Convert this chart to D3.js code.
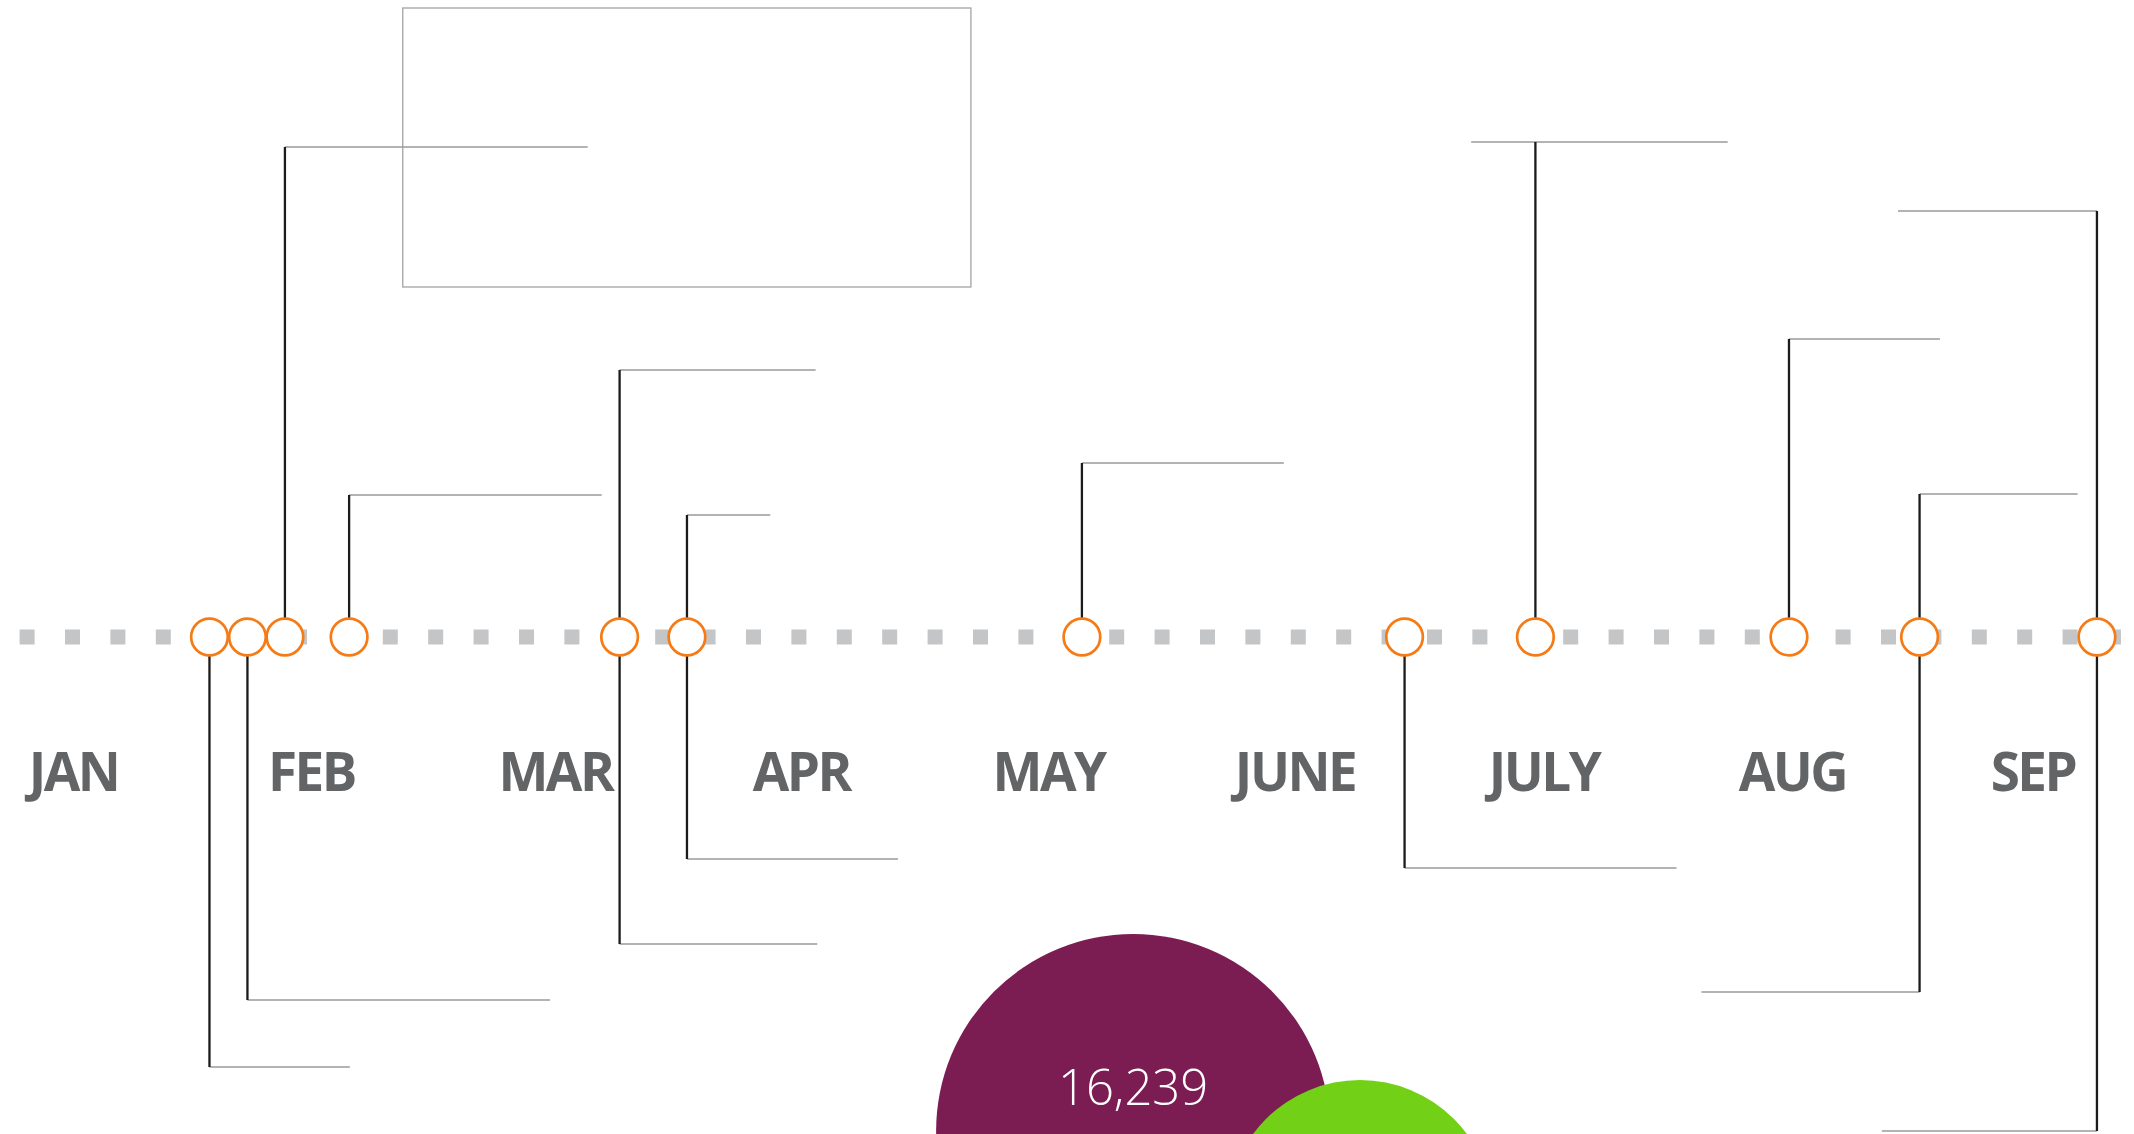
<!DOCTYPE html>
<html>
<head>
<meta charset="utf-8">
<script src="https://cdn.jsdelivr.net/npm/d3@7"></script>
<style>
  html, body { margin: 0; padding: 0; background: #fff; overflow: hidden; }
  svg { display: block; }
</style>
</head>
<body>
<svg></svg>
<script>
// month labels and where each one sits, in months from the JAN label
const months = ['JAN', 'FEB', 'MAR', 'APR', 'MAY', 'JUNE', 'JULY', 'AUG', 'SEP'];
const monthPos = [0.002, 0.973, 1.969, 2.973, 3.982, 4.988, 6.004, 7.018, 8.0];

// events on the timeline, in months from the JAN label
const eventPos = [0.557, 0.712, 0.865, 1.127, 2.231, 2.506, 4.118, 5.435, 5.969, 7.004, 7.537, 8.261];

// callouts: event index, stem level (+ up / - down), arm extent left/right in months
const calloutEvent    = [0, 1, 2, 3, 4, 4, 5, 5, 6, 7, 8, 9, 10, 10, 11, 11];
const calloutLevel    = [-430, -363, 490, 142, 267, -307, 122, -222, 174, -231, 495, 298, 143, -355, 426, -494];
const calloutArmLeft  = [0, 0, 0, 0, 0, 0, 0, 0, 0, 0, -0.262, 0, 0, -0.890, -0.812, -0.878];
const calloutArmRight = [0.573, 1.235, 1.236, 1.031, 0.800, 0.807, 0.340, 0.861, 0.824, 1.110, 0.785, 0.616, 0.645, 0, 0, 0];

// empty frame at the top (months / levels)
const boxMonths = [1.346, 3.665];
const boxLevels = [350, 629];

// timeline extent in months
const timelineExtent = [-0.218, 8.359];

// bubbles
const bubbleValues = [16239, 7400];
const bubbleMonths = [4.327, 5.253];
const bubbleLevels = [-494, -576];
const bubbleLabels = ['16,239', ''];

const width = 2134;
const height = 1134;

const orange = '#f47b16';
const bubbleColor = d3.scaleOrdinal()
                      .domain([0, 1])
                      .range(['#7b1c52', '#72d016']);

const xScale = d3.scaleLinear()
                 .domain([0, months.length - 1])
                 .range([73, 2033]);

const yScale = d3.scaleLinear()
                 .domain([0, 500])
                 .range([637, 137]);

const rScale = d3.scaleSqrt()
                 .domain([0, d3.max(bubbleValues)])
                 .range([0, 197]);

const callouts = calloutEvent.map((e, i) => ({
  pos: eventPos[e],
  level: calloutLevel[i],
  left: calloutArmLeft[i],
  right: calloutArmRight[i]
}));

const bubbles = bubbleValues.map((v, i) => ({
  value: v,
  pos: bubbleMonths[i],
  level: bubbleLevels[i],
  label: bubbleLabels[i],
  i: i
}));

const svg = d3.select('svg')
              .attr('width', width)
              .attr('height', height);

// dotted timeline
svg
  .append('line')
    .attr('x1', xScale(timelineExtent[0]))
    .attr('x2', xScale(timelineExtent[1]))
    .attr('y1', yScale(0))
    .attr('y2', yScale(0))
    .attr('stroke', '#c4c5c7')
    .attr('stroke-width', 15)
    .attr('stroke-dasharray', '15 30.4');

// frame
svg
  .append('rect')
    .attr('x', xScale(boxMonths[0]))
    .attr('y', yScale(boxLevels[1]))
    .attr('width', xScale(boxMonths[1]) - xScale(boxMonths[0]))
    .attr('height', yScale(boxLevels[0]) - yScale(boxLevels[1]))
    .attr('fill', 'none')
    .attr('stroke', '#a3a3a3')
    .attr('stroke-width', 1.3);

// callout arms
svg
  .selectAll('line.arm')
  .data(callouts)
  .enter()
  .append('line')
    .classed('arm', true)
    .attr('x1', (d) => xScale(d.pos + d.left))
    .attr('x2', (d) => xScale(d.pos + d.right))
    .attr('y1', (d) => yScale(d.level))
    .attr('y2', (d) => yScale(d.level))
    .attr('stroke', '#999a9a')
    .attr('stroke-width', 1.4);

// callout stems
svg
  .selectAll('line.stem')
  .data(callouts)
  .enter()
  .append('line')
    .classed('stem', true)
    .attr('x1', (d) => xScale(d.pos))
    .attr('x2', (d) => xScale(d.pos))
    .attr('y1', yScale(0))
    .attr('y2', (d) => yScale(d.level))
    .attr('stroke', '#1c1a1b')
    .attr('stroke-width', 2.3);

// event markers
svg
  .selectAll('circle.event')
  .data(eventPos)
  .enter()
  .append('circle')
    .classed('event', true)
    .attr('cx', (d) => xScale(d))
    .attr('cy', yScale(0))
    .attr('r', 18.3)
    .attr('fill', '#fff')
    .attr('stroke', orange)
    .attr('stroke-width', 2.7);

// month labels
svg
  .selectAll('text.month')
  .data(months)
  .enter()
  .append('text')
    .classed('month', true)
    .text((d) => d)
    .attr('x', (d, i) => xScale(monthPos[i]))
    .attr('y', yScale(0) + 154)
    .style('text-anchor', 'middle')
    .style('font-family', '"Open Sans", sans-serif')
    .style('font-weight', 700)
    .style('font-size', '53px')
    .style('letter-spacing', '-2.5px')
    .style('fill', '#636466');

// bubbles
svg
  .selectAll('circle.bubble')
  .data(bubbles)
  .enter()
  .append('circle')
    .classed('bubble', true)
    .attr('cx', (d) => xScale(d.pos))
    .attr('cy', (d) => yScale(d.level))
    .attr('r', (d) => rScale(d.value))
    .attr('fill', (d) => bubbleColor(d.i));

svg
  .selectAll('text.bubble-label')
  .data(bubbles)
  .enter()
  .append('text')
    .classed('bubble-label', true)
    .text((d) => d.label)
    .attr('x', (d) => xScale(d.pos))
    .attr('y', (d) => yScale(d.level) - 26)
    .style('text-anchor', 'middle')
    .style('font-family', '"Open Sans", sans-serif')
    .style('font-weight', 300)
    .style('font-size', '49px')
    .style('fill', '#fff');
</script>
</body>
</html>
